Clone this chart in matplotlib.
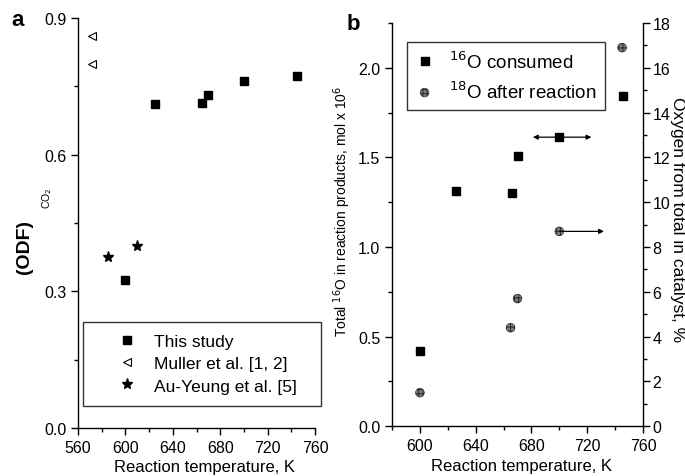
import numpy as np
import matplotlib
matplotlib.use("Agg")
import matplotlib.pyplot as plt
from matplotlib.ticker import MultipleLocator, FormatStrFormatter

plt.rcParams['font.family'] = ['Liberation Sans', 'DejaVu Sans']
plt.rcParams['hatch.linewidth'] = 0.6

# (a) ODF of CO2 vs temperature
T_this = [600, 625, 665, 670, 700, 745]
odf_this = [0.325, 0.712, 0.714, 0.731, 0.761, 0.772]
T_muller = [572, 572]
odf_muller = [0.86, 0.80]
T_auyeung = [585, 610]
odf_auyeung = [0.376, 0.399]

# (b) oxygen balance
T_16 = [600, 626, 666, 670, 700, 746]
o16_consumed = [0.418, 1.311, 1.300, 1.507, 1.613, 1.840]
T_18 = [600, 665, 670, 700, 745]
o18_after = [1.5, 4.4, 5.7, 8.7, 16.9]

fig = plt.figure(figsize=(6.85, 4.77), dpi=100)

def style_ticks(ax, which_sides):
    ax.tick_params(which='major', direction='out', length=5, width=1.0, labelsize=11.5)
    ax.tick_params(which='minor', direction='out', length=3, width=1.0)
    for s in ['left', 'right', 'top', 'bottom']:
        ax.spines[s].set_visible(s in which_sides)
        ax.spines[s].set_linewidth(1.0)

# ---- panel a ----
axa = fig.add_axes([0.1139, 0.1006, 0.346, 0.8595])
axa.plot(T_this, odf_this, 's', color='black', ms=6, label='This study')
axa.plot(T_muller, odf_muller, '<', mfc='white', mec='black', mew=0.8, ms=6,
         label='Muller et al. [1, 2]')
axa.plot(T_auyeung, odf_auyeung, '*', color='black', ms=8, label='Au-Yeung et al. [5]')
axa.set_xlim(560, 760)
axa.set_ylim(0.0, 0.9)
axa.xaxis.set_major_locator(MultipleLocator(40))
axa.xaxis.set_minor_locator(MultipleLocator(20))
axa.yaxis.set_major_locator(MultipleLocator(0.3))
axa.yaxis.set_minor_locator(MultipleLocator(0.15))
axa.yaxis.set_major_formatter(FormatStrFormatter('%.1f'))
style_ticks(axa, ['left', 'bottom'])
axa.set_xlabel('Reaction temperature, K', fontsize=12)
axa.xaxis.set_label_coords(0.535, -0.075)
leg = axa.legend(loc='upper left', bbox_to_anchor=(0.021, 0.061, 1.004, 0.1975),
                 mode='expand', borderaxespad=0, fontsize=12.5, frameon=True,
                 fancybox=False, edgecolor='black', handlelength=3.66,
                 handletextpad=-0.28, borderpad=0.7, labelspacing=0.4)
leg.get_frame().set_linewidth(1.0)

fig.text(25 / 685, 1 - 247 / 477, '(ODF)', rotation=90, fontsize=14,
         fontweight='bold', ha='center', va='center')
fig.text(47 / 685, 1 - 198 / 477, 'CO$_2$', rotation=90, fontsize=7.5,
         ha='center', va='center')
fig.text(18 / 685, 1 - 20 / 477, 'a', fontsize=16, fontweight='bold',
         ha='center', va='center')

# ---- panel b ----
axb = fig.add_axes([0.5723, 0.1042, 0.3664, 0.8455])
axr = axb.twinx()
axb.plot(T_16, o16_consumed, 's', color='black', ms=6, zorder=3)
axr.scatter(T_18, o18_after, s=40, marker='o', facecolor='#7a7a7a',
            edgecolor='#222222', hatch='++++', linewidth=0.4, zorder=3)

axb.set_xlim(580, 760)
axb.set_ylim(0.0, 2.25)
axr.set_ylim(0, 18)
axb.xaxis.set_major_locator(MultipleLocator(40))
axb.xaxis.set_minor_locator(MultipleLocator(20))
axb.set_xticks([600, 640, 680, 720, 760])
axb.yaxis.set_major_locator(MultipleLocator(0.5))
axb.yaxis.set_minor_locator(MultipleLocator(0.25))
axb.yaxis.set_major_formatter(FormatStrFormatter('%.1f'))
axr.yaxis.set_major_locator(MultipleLocator(2))
axr.yaxis.set_minor_locator(MultipleLocator(1))
style_ticks(axb, ['left', 'bottom'])
style_ticks(axr, ['right'])
axr.tick_params(axis='y', which='major', pad=2)

# arrows pointing to the axis each series belongs to
axb.annotate('', xy=(681, o16_consumed[4]), xytext=(723, o16_consumed[4]),
             arrowprops=dict(arrowstyle='<|-|>', lw=0.9, color='black',
                             mutation_scale=7, shrinkA=0, shrinkB=0))
axr.annotate('', xy=(732, o18_after[3]), xytext=(T_18[3], o18_after[3]),
             arrowprops=dict(arrowstyle='-|>', lw=0.9, color='black',
                             mutation_scale=7, shrinkA=0, shrinkB=0))

axb.set_xlabel('Reaction temperature, K', fontsize=12)
axb.xaxis.set_label_coords(0.517, -0.079)
axb.set_ylabel('Total $^{16}$O in reaction products, mol x 10$^6$', fontsize=10)
axb.yaxis.set_label_coords(-0.155, 0.536)
axr.set_ylabel('Oxygen from total in catalyst, %', fontsize=12.5, rotation=270,
               va='center')
axr.yaxis.set_label_coords(1.136, 0.516)

h1 = axb.plot([], [], 's', color='black', ms=6)[0]
h2 = axr.scatter([], [], s=40, marker='o', facecolor='#7a7a7a',
                 edgecolor='#222222', hatch='++++', linewidth=0.4)
legb = axr.legend([h1, h2], ['$^{16}$O consumed', '$^{18}$O after reaction'],
                  loc='upper left', bbox_to_anchor=(0.0586, 0.9537),
                  borderaxespad=0, fontsize=13.5, frameon=True, fancybox=False,
                  edgecolor='black', handlelength=1.0, handletextpad=0.8,
                  borderpad=0.45, labelspacing=0.45)
legb.get_frame().set_linewidth(1.0)

fig.text(353 / 685, 1 - 25 / 477, 'b', fontsize=16, fontweight='bold',
         ha='center', va='center')

fig.savefig('out.png', dpi=100)
